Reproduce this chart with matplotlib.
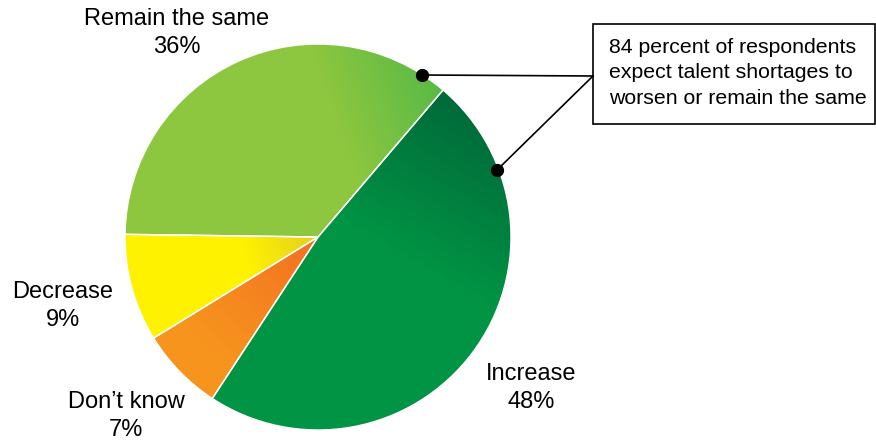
import numpy as np
import matplotlib
matplotlib.use("Agg")
import matplotlib.pyplot as plt
from matplotlib.colors import to_rgb
from matplotlib.patches import Rectangle

plt.rcParams['font.family'] = ['Liberation Sans', 'DejaVu Sans']

# data
categories = ["Increase", "Don\u2019t know", "Decrease", "Remain the same"]
shares = [48, 7, 9, 36]
callout_lines = ["84 percent of respondents",
                 "expect talent shortages to",
                 "worsen or remain the same"]

# look (gradient start/end colours per slice)
grad_colors = [("#009444", "#006b3a"),
               ("#f7941d", "#f37321"),
               ("#fff200", "#e2cf20"),
               ("#8dc63f", "#56b947")]
# gradient anchor points in pixel coords (x, y down)
grad_points = [((430, 270), (508, 135)),
               ((215, 350), (312, 245)),
               ((245, 250), (318, 236)),
               ((340, 125), (448, 86))]

W, H = 876, 440
cx, cy, R = 318, 237, 193


def Y(y):
    # pixel row -> data y (y up)
    return H - y


fig = plt.figure(figsize=(W / 100, H / 100), dpi=100)
ax = fig.add_axes([0, 0, 1, 1])

wedges, _ = ax.pie(shares, startangle=49.6, counterclock=False,
                   center=(cx, Y(cy)), radius=R,
                   wedgeprops=dict(facecolor="none", edgecolor="white", linewidth=1))

# fill each wedge with a linear gradient clipped to its shape
ext = [cx - R - 2, cx + R + 2, Y(cy) - R - 2, Y(cy) + R + 2]
n = 400
xs = np.linspace(ext[0], ext[1], n)
ys = np.linspace(ext[3], ext[2], n)
gx, gy = np.meshgrid(xs, ys)
for w, (c0, c1), (p0, p1) in zip(wedges, grad_colors, grad_points):
    x0, y0 = p0[0], Y(p0[1])
    x1, y1 = p1[0], Y(p1[1])
    vx, vy = x1 - x0, y1 - y0
    t = ((gx - x0) * vx + (gy - y0) * vy) / (vx * vx + vy * vy)
    t = np.clip(t, 0, 1)[..., None]
    img = (1 - t) * np.array(to_rgb(c0)) + t * np.array(to_rgb(c1))
    im = ax.imshow(img, extent=ext, origin="upper", zorder=1, interpolation="bilinear")
    im.set_clip_path(w)
    w.set_zorder(2)

# slice labels
label_pos = [(531, 374), (126, 402), (63, 292), (177, 19)]
for name, v, (lx, ly) in zip(categories, shares, label_pos):
    ax.text(lx, Y(ly), name, ha="center", va="center", fontsize=17)
    ax.text(lx, Y(ly + 27.5), f"{v}%", ha="center", va="center", fontsize=17)

# callout box
box_x0, box_y0, box_x1, box_y1 = 593, 24, 875, 124
ax.add_patch(Rectangle((box_x0, Y(box_y1)), box_x1 - box_x0, box_y1 - box_y0,
                       facecolor="white", edgecolor="black", linewidth=1.2, zorder=3))
for i, line in enumerate(callout_lines):
    ax.text(609, Y(47 + i * 25.5), line, ha="left", va="center", fontsize=15.3, zorder=4)

join = (box_x0, 76)
for px, py in [(422, 75), (497, 170)]:
    ax.plot([px, join[0]], [Y(py), Y(join[1])], color="black", linewidth=1.2, zorder=3)
    ax.plot(px, Y(py), "o", color="black", markersize=8.5, zorder=4)

ax.set_xlim(0, W)
ax.set_ylim(0, H)
ax.set_aspect("equal")
ax.axis("off")
fig.savefig("out.png", dpi=100)
